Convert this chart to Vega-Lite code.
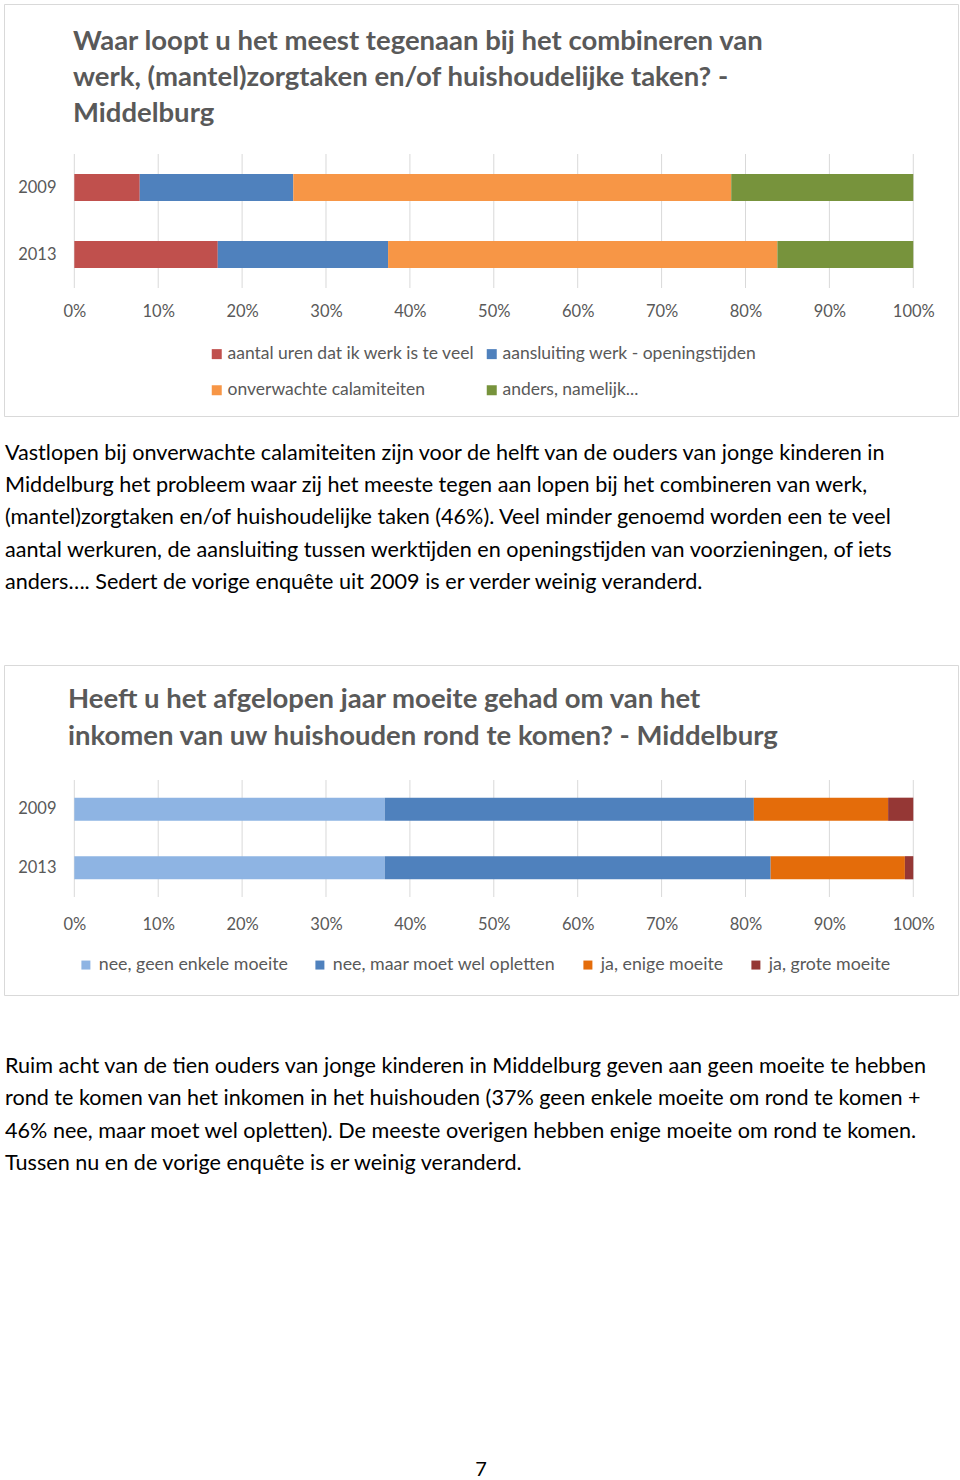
{
  "$schema": "https://vega.github.io/schema/vega-lite/v6.json",
  "background": "white",
  "padding": {"left": 3, "top": 3, "right": 0, "bottom": 0},
  "spacing": 0,
  "config": {"view": {"stroke": null}, "font": "Lato"},
  "resolve": {"scale": {"x": "independent", "y": "independent", "color": "independent"}, "legend": {"color": "independent"}},
  "vconcat": [
    {
      "width": 954,
      "height": 412,
      "view": {"stroke": "#d9d9d9", "strokeWidth": 1},
      "title": {
        "text": ["Waar loopt u het meest tegenaan bij het combineren van", "werk, (mantel)zorgtaken en/of huishoudelijke taken? -", "Middelburg"],
        "anchor": "start", "frame": "group", "dx": 69, "offset": -123,
        "font": "Lato", "fontSize": 27.5, "fontWeight": "bold", "color": "#595959", "lineHeight": 36
      },
      "layer": [
        {
          "data": {"values": [{"t": 0}, {"t": 10}, {"t": 20}, {"t": 30}, {"t": 40}, {"t": 50}, {"t": 60}, {"t": 70}, {"t": 80}, {"t": 90}, {"t": 100}]},
          "mark": {"type": "rule", "color": "#d9d9d9", "strokeWidth": 1, "yOffset": -33.5, "y2Offset": 33.5},
          "encoding": {
            "x": {"field": "t", "type": "quantitative",
              "axis": {"orient": "bottom", "offset": -113, "values": [0, 10, 20, 30, 40, 50, 60, 70, 80, 90, 100], "labelExpr": "datum.value + '%'", "domain": false, "ticks": false, "tickSize": 0, "grid": false, "labelPadding": 0, "labelFontSize": 16.5, "labelColor": "#595959", "labelFont": "Lato", "title": null, "labelFlush": false, "labelOverlap": false}},
            "y": {"datum": "2009", "type": "nominal",
              "axis": {"orient": "left", "offset": -52, "domain": false, "ticks": false, "tickSize": 0, "labelPadding": 0, "labelFontSize": 16.5, "labelColor": "#595959", "labelFont": "Lato", "title": null, "grid": false}},
            "y2": {"datum": "2013"}
          }
        },
        {
          "data": {"values": [
            {"jaar": "2009", "categorie": "aantal uren dat ik werk is te veel", "n": 1, "pct": 7.8},
            {"jaar": "2009", "categorie": "aansluiting werk - openingstijden", "n": 2, "pct": 18.3},
            {"jaar": "2009", "categorie": "onverwachte calamiteiten", "n": 3, "pct": 52.2},
            {"jaar": "2009", "categorie": "anders, namelijk...", "n": 4, "pct": 21.7},
            {"jaar": "2013", "categorie": "aantal uren dat ik werk is te veel", "n": 1, "pct": 17.1},
            {"jaar": "2013", "categorie": "aansluiting werk - openingstijden", "n": 2, "pct": 20.3},
            {"jaar": "2013", "categorie": "onverwachte calamiteiten", "n": 3, "pct": 46.4},
            {"jaar": "2013", "categorie": "anders, namelijk...", "n": 4, "pct": 16.2}
          ]},
          "mark": {"type": "bar"},
          "encoding": {
            "y": {"field": "jaar", "type": "nominal",
              "scale": {"type": "band", "domain": ["2009", "2013"], "range": [150, 284], "paddingInner": 0.597, "paddingOuter": 0.2985},
              "axis": {"orient": "left", "offset": -52, "domain": false, "ticks": false, "tickSize": 0, "labelPadding": 0, "labelFontSize": 16.5, "labelColor": "#595959", "labelFont": "Lato", "title": null, "grid": false}},
            "x": {"field": "pct", "type": "quantitative", "stack": "zero",
              "scale": {"domain": [-8.38, 105.33], "nice": false, "zero": false},
              "axis": {"orient": "bottom", "offset": -113, "values": [0, 10, 20, 30, 40, 50, 60, 70, 80, 90, 100], "labelExpr": "datum.value + '%'", "domain": false, "ticks": false, "tickSize": 0, "grid": false, "labelPadding": 0, "labelFontSize": 16.5, "labelColor": "#595959", "labelFont": "Lato", "title": null, "labelFlush": false, "labelOverlap": false}},
            "color": {"field": "categorie", "type": "nominal",
              "scale": {"domain": ["aantal uren dat ik werk is te veel", "aansluiting werk - openingstijden", "onverwachte calamiteiten", "anders, namelijk..."], "range": ["#C0504D", "#4F81BD", "#F79646", "#77933C"]},
              "legend": {"orient": "none", "legendX": 204, "legendY": 341, "direction": "horizontal", "columns": 2, "title": null, "symbolType": "square", "symbolSize": 100, "symbolStrokeWidth": 0, "symbolOpacity": 1, "labelFontSize": 17.5, "labelColor": "#595959", "labelFont": "Lato", "columnPadding": 8, "rowPadding": 17.5, "labelOffset": 2, "labelLimit": 400, "padding": 0}},
            "order": {"field": "n", "type": "quantitative"}
          }
        }
      ]
    },
    {
      "width": 954,
      "height": 247,
      "data": {"values": [
        {"regel": 1, "tekst": "Vastlopen bij onverwachte calamiteiten zijn voor de helft van de ouders van jonge kinderen in"},
        {"regel": 2, "tekst": "Middelburg het probleem waar zij het meeste tegen aan lopen bij het combineren van werk,"},
        {"regel": 3, "tekst": "(mantel)zorgtaken en/of huishoudelijke taken (46%). Veel minder genoemd worden een te veel"},
        {"regel": 4, "tekst": "aantal werkuren, de aansluiting tussen werktijden en openingstijden van voorzieningen, of iets"},
        {"regel": 5, "tekst": "anders…. Sedert de vorige enquête uit 2009 is er verder weinig veranderd."}
      ]},
      "mark": {"type": "text", "align": "left", "baseline": "middle", "font": "Lato", "fontSize": 21.6, "color": "#000000", "dx": 1},
      "encoding": {
        "x": {"datum": 0, "type": "quantitative", "scale": {"domain": [0, 1]}, "axis": null},
        "y": {"field": "regel", "type": "quantitative", "scale": {"domain": [-0.147, 7.512], "reverse": true, "nice": false, "zero": false}, "axis": null},
        "text": {"field": "tekst"}
      }
    },
    {
      "width": 954,
      "height": 330,
      "view": {"stroke": "#d9d9d9", "strokeWidth": 1},
      "title": {
        "text": ["Heeft u het afgelopen jaar moeite gehad om van het", "inkomen van uw huishouden rond te komen? - Middelburg"],
        "anchor": "start", "frame": "group", "dx": 64, "offset": -85,
        "font": "Lato", "fontSize": 27.5, "fontWeight": "bold", "color": "#595959", "lineHeight": 37
      },
      "layer": [
        {
          "data": {"values": [{"t": 0}, {"t": 10}, {"t": 20}, {"t": 30}, {"t": 40}, {"t": 50}, {"t": 60}, {"t": 70}, {"t": 80}, {"t": 90}, {"t": 100}]},
          "mark": {"type": "rule", "color": "#d9d9d9", "strokeWidth": 1, "yOffset": -29.25, "y2Offset": 29.25},
          "encoding": {
            "x": {"field": "t", "type": "quantitative",
              "axis": {"orient": "bottom", "offset": -79, "values": [0, 10, 20, 30, 40, 50, 60, 70, 80, 90, 100], "labelExpr": "datum.value + '%'", "domain": false, "ticks": false, "tickSize": 0, "grid": false, "labelPadding": 0, "labelFontSize": 16.5, "labelColor": "#595959", "labelFont": "Lato", "title": null, "labelFlush": false, "labelOverlap": false}},
            "y": {"datum": "2009", "type": "nominal",
              "axis": {"orient": "left", "offset": -52, "domain": false, "ticks": false, "tickSize": 0, "labelPadding": 0, "labelFontSize": 16.5, "labelColor": "#595959", "labelFont": "Lato", "title": null, "grid": false}},
            "y2": {"datum": "2013"}
          }
        },
        {
          "data": {"values": [
            {"jaar": "2009", "antwoord": "nee, geen enkele moeite", "n": 1, "pct": 37.0},
            {"jaar": "2009", "antwoord": "nee, maar moet wel opletten", "n": 2, "pct": 44.0},
            {"jaar": "2009", "antwoord": "ja, enige moeite", "n": 3, "pct": 16.0},
            {"jaar": "2009", "antwoord": "ja, grote moeite", "n": 4, "pct": 3.0},
            {"jaar": "2013", "antwoord": "nee, geen enkele moeite", "n": 1, "pct": 37.0},
            {"jaar": "2013", "antwoord": "nee, maar moet wel opletten", "n": 2, "pct": 46.0},
            {"jaar": "2013", "antwoord": "ja, enige moeite", "n": 3, "pct": 16.0},
            {"jaar": "2013", "antwoord": "ja, grote moeite", "n": 4, "pct": 1.0}
          ]},
          "mark": {"type": "bar"},
          "encoding": {
            "y": {"field": "jaar", "type": "nominal",
              "scale": {"type": "band", "domain": ["2009", "2013"], "range": [115, 232], "paddingInner": 0.604, "paddingOuter": 0.302},
              "axis": {"orient": "left", "offset": -52, "domain": false, "ticks": false, "tickSize": 0, "labelPadding": 0, "labelFontSize": 16.5, "labelColor": "#595959", "labelFont": "Lato", "title": null, "grid": false}},
            "x": {"field": "pct", "type": "quantitative", "stack": "zero",
              "scale": {"domain": [-8.38, 105.33], "nice": false, "zero": false},
              "axis": {"orient": "bottom", "offset": -79, "values": [0, 10, 20, 30, 40, 50, 60, 70, 80, 90, 100], "labelExpr": "datum.value + '%'", "domain": false, "ticks": false, "tickSize": 0, "grid": false, "labelPadding": 0, "labelFontSize": 16.5, "labelColor": "#595959", "labelFont": "Lato", "title": null, "labelFlush": false, "labelOverlap": false}},
            "color": {"field": "antwoord", "type": "nominal",
              "scale": {"domain": ["nee, geen enkele moeite", "nee, maar moet wel opletten", "ja, enige moeite", "ja, grote moeite"], "range": ["#8EB4E3", "#4F81BD", "#E46C0A", "#953735"]},
              "legend": {"orient": "none", "legendX": 73, "legendY": 291, "direction": "horizontal", "columns": 4, "title": null, "symbolType": "square", "symbolSize": 81, "symbolStrokeWidth": 0, "symbolOpacity": 1, "labelFontSize": 17.8, "labelColor": "#595959", "labelFont": "Lato", "columnPadding": 23, "rowPadding": 0, "labelOffset": 4, "labelLimit": 400, "padding": 0}},
            "order": {"field": "n", "type": "quantitative"}
          }
        }
      ]
    },
    {
      "width": 954,
      "height": 448,
      "data": {"values": [
        {"regel": 1, "tekst": "Ruim acht van de tien ouders van jonge kinderen in Middelburg geven aan geen moeite te hebben"},
        {"regel": 2, "tekst": "rond te komen van het inkomen in het huishouden (37% geen enkele moeite om rond te komen +"},
        {"regel": 3, "tekst": "46% nee, maar moet wel opletten). De meeste overigen hebben enige moeite om rond te komen."},
        {"regel": 4, "tekst": "Tussen nu en de vorige enquête is er weinig veranderd."}
      ]},
      "mark": {"type": "text", "align": "left", "baseline": "middle", "font": "Lato", "fontSize": 21.6, "color": "#000000", "dx": 1},
      "encoding": {
        "x": {"datum": 0, "type": "quantitative", "scale": {"domain": [0, 1]}, "axis": null},
        "y": {"field": "regel", "type": "quantitative", "scale": {"domain": [-1.2016, 12.69], "reverse": true, "nice": false, "zero": false}, "axis": null},
        "text": {"field": "tekst"}
      }
    },
    {
      "width": 954,
      "height": 36,
      "data": {"values": [{"pagina": "7"}]},
      "mark": {"type": "text", "font": "Lato", "fontSize": 20, "color": "#000000", "dy": 8},
      "encoding": {"text": {"field": "pagina"}}
    }
  ]
}
